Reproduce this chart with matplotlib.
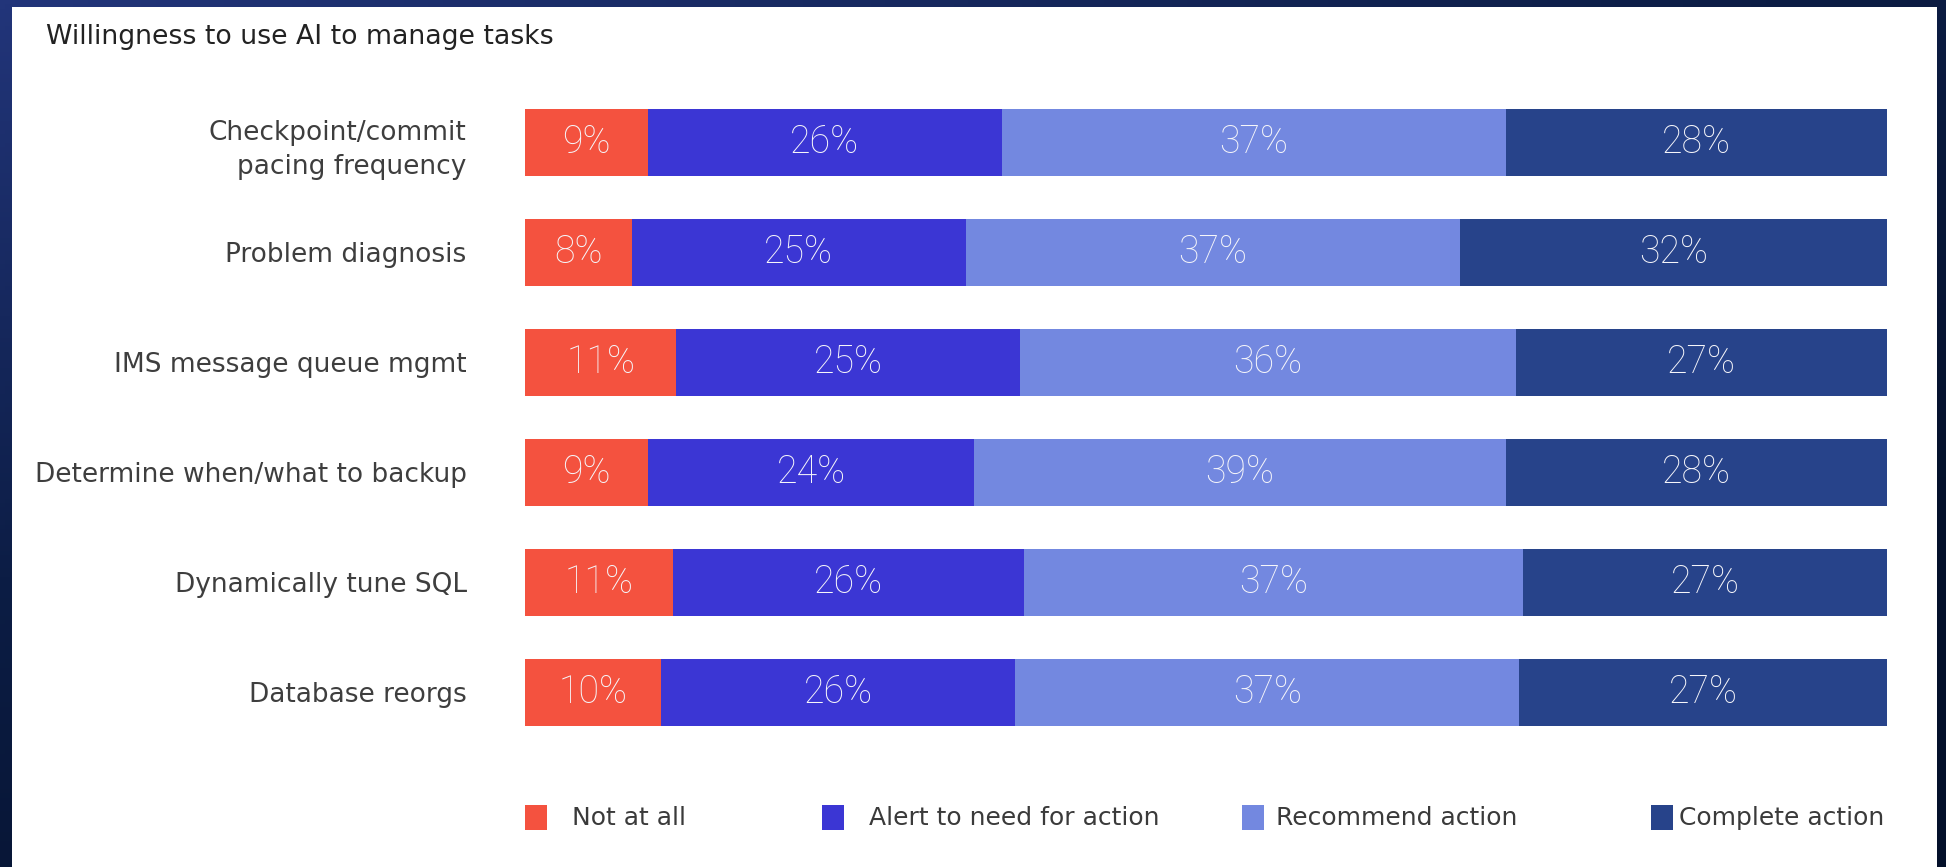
import numpy as np
import matplotlib.pyplot as plt
from matplotlib.patches import Rectangle
from matplotlib.colors import LinearSegmentedColormap

# data
categories = ["Checkpoint/commit\npacing frequency", "Problem diagnosis",
              "IMS message queue mgmt", "Determine when/what to backup",
              "Dynamically tune SQL", "Database reorgs"]
series = ["Not at all", "Alert to need for action", "Recommend action", "Complete action"]
not_at_all = [9, 8, 11, 9, 11, 10]
alert = [26, 25, 25, 24, 26, 26]
recommend = [37, 37, 36, 39, 37, 37]
complete = [28, 32, 27, 28, 27, 27]
title = "Willingness to use AI to manage tasks"

colors = ["#f4523f", "#3b36d4", "#7388e0", "#27438a"]

W, H = 1946, 867
fig = plt.figure(figsize=(W / 100, H / 100), dpi=100)

# dark gradient backdrop + white card
bg = fig.add_axes([0, 0, 1, 1], zorder=-5)
yy, xx = np.mgrid[0:1:200j, 0:1:400j]
grad = np.clip(0.55 * xx + 0.75 * yy, 0, 1)
cmap = LinearSegmentedColormap.from_list("bg", ["#22357a", "#0c1d45", "#04102a"])
bg.imshow(grad, cmap=cmap, aspect="auto", extent=[0, 1, 0, 1], origin="upper")
bg.add_patch(Rectangle((12 / W, 0), (1937 - 12) / W, (H - 7) / H,
                       facecolor="white", edgecolor="none", transform=bg.transAxes))
bg.set_xlim(0, 1)
bg.set_ylim(0, 1)
bg.axis("off")

# main axes
ax = fig.add_axes([525 / W, 1 - 747.5 / H, (1887 - 525) / W, 660 / H])
ax.set_facecolor("none")

vals = np.array([not_at_all, alert, recommend, complete], dtype=float)
widths = vals / vals.sum(axis=0) * 100   # bars in the source are scaled to full width
y = np.arange(len(categories))
left = np.zeros(len(categories))
for k in range(len(series)):
    ax.barh(y, widths[k], left=left, height=0.61, color=colors[k], edgecolor="none")
    for i in range(len(categories)):
        ax.text(left[i] + widths[k][i] / 2, y[i], f"{int(vals[k][i])}%",
                ha="center", va="center", color="#f6f6fa", fontsize=27,
                family="Roboto", fontweight="light")
    left += widths[k]

ax.set_xlim(0, 100)
ax.set_ylim(len(categories) - 0.5, -0.5)
ax.set_yticks(y)
ax.set_yticklabels(categories, fontsize=19, color="#3e3e3e", linespacing=1.4)
ax.tick_params(axis="y", length=0, pad=42)
ax.set_xticks([])
for s in ax.spines.values():
    s.set_visible(False)

fig.text(46 / W, 1 - 37 / H, title, ha="left", va="center",
         fontsize=19.3, color="#222222")

# legend, laid out by hand like the source
marker_x = [525, 822, 1242, 1651]
text_x = [572, 869, 1276, 1679]
leg_y = 818
for k in range(len(series)):
    fig.patches.append(Rectangle((marker_x[k] / W, 1 - (leg_y + 12) / H), 22 / W, 25 / H,
                                 facecolor=colors[k], edgecolor="none",
                                 transform=fig.transFigure, figure=fig))
    fig.text(text_x[k] / W, 1 - leg_y / H, series[k], ha="left", va="center",
             fontsize=18, color="#3a3a3a")

fig.savefig("out.png", dpi=100)
